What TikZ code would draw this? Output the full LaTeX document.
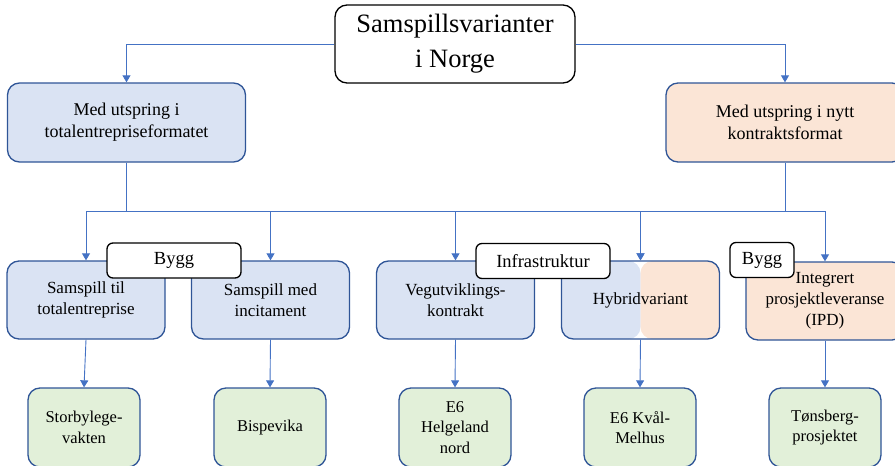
\documentclass[tikz,border=0pt]{standalone}
\usepackage{fontspec}
\setmainfont{Liberation Serif}
\usetikzlibrary{arrows.meta}
\definecolor{boxblue}{HTML}{DAE3F3}
\definecolor{boxpeach}{HTML}{FBE5D6}
\definecolor{boxgreen}{HTML}{E2F0D9}
\definecolor{edgeblue}{HTML}{2F5597}
\definecolor{linkblue}{HTML}{4472C4}
\tikzset{
  base/.style={rectangle, rounded corners=12pt, line width=1.3pt, align=center, inner sep=2pt},
  topbox/.style={base, draw=black, fill=white, minimum width=240pt, minimum height=78pt,
    font=\fontsize{26.5}{35}\selectfont},
  midbox/.style={base, draw=edgeblue, minimum width=238pt, minimum height=79pt,
    font=\fontsize{18}{22}\selectfont},
  rowbox/.style={base, draw=edgeblue, fill=boxblue, minimum width=158pt, minimum height=78pt,
    font=\fontsize{17}{21}\selectfont},
  leafbox/.style={base, draw=edgeblue, fill=boxgreen, minimum width=112pt, minimum height=79pt,
    font=\fontsize{16.5}{20.5}\selectfont},
  tagbox/.style={rectangle, rounded corners=6pt, draw=black, fill=white, line width=1.3pt,
    minimum height=35pt, inner sep=2pt, font=\fontsize{18.5}{22}\selectfont},
  conn/.style={draw=linkblue, line width=0.9pt, -{Triangle[width=8pt,length=7pt]}},
  bus/.style={draw=linkblue, line width=0.9pt}
}
\begin{document}
\begin{tikzpicture}[x=1pt,y=-1pt]
\useasboundingbox (0,0) rectangle (895,466);
\clip (0,0) rectangle (895,466);

% root and the two origins
\node[topbox] (root) at (455,44) {Samspillsvarianter\\i Norge};
\node[midbox, fill=boxblue] (te) at (126.5,122.5) {Med utspring i\\totalentrepriseformatet};
\node[midbox, fill=boxpeach] (nk) at (785,122.5) {Med utspring i nytt\\kontraktsformat};

% variants
\node[rowbox] (stt) at (86,300) {Samspill til\\totalentreprise};
\node[rowbox] (smi) at (270.5,300) {Samspill med\\incitament};
\node[rowbox] (vuk) at (455.5,300) {Vegutviklings-\\kontrakt};
\node[rowbox, fill=none,
  path picture={
    \fill[boxblue] (path picture bounding box.south west) rectangle (path picture bounding box.north);
    \fill[boxpeach] (path picture bounding box.south) rectangle (path picture bounding box.north east);
  }] (hyb) at (640.5,300) {Hybridvariant};
\node[rowbox, fill=boxpeach] (ipd) at (825,301) {Integrert\\prosjektleveranse\\(IPD)};

% projects
\node[leafbox] (sbv) at (84,427.5) {Storbylege-\\vakten};
\node[leafbox] (bsp) at (270,427.5) {Bispevika};
\node[leafbox] (ehn) at (455,427.5) {E6\\Helgeland\\nord};
\node[leafbox] (ekm) at (640,427.5) {E6 Kvål-\\Melhus};
\node[leafbox] (tbp) at (825,427.5) {Tønsberg-\\prosjektet};

% connectors from the root
\draw[conn] (root.west) -| (te.north);
\draw[conn] (root.east) -| (nk.north);

% bus lines to the variants
\coordinate (busL) at (126.5,211);
\coordinate (busR) at (785,211);
\draw[bus] (te.south) -- (busL);
\draw[bus] (nk.south) -- (busR);
\draw[conn] (busL) -| (stt.north);
\draw[conn] (busL) -| (smi.north);
\draw[conn] (busL) -| (vuk.north);
\draw[conn] (busL) -| (hyb.north);
\draw[conn] (busR) -| (hyb.north);
\draw[conn] (busR) -| (ipd.north);

% variants to projects
\draw[conn] (stt.south) -- (sbv.north);
\draw[conn] (smi.south) -- (bsp.north);
\draw[conn] (vuk.south) -- (ehn.north);
\draw[conn] (hyb.south) -- (ekm.north);
\draw[conn] (ipd.south) -- (tbp.north);

% sector tags
\node[tagbox, minimum width=134pt] (tag1) at (174,260.5) {Bygg};
\node[tagbox, minimum width=134pt] (tag2) at (543,261) {Infrastruktur};
\node[tagbox, minimum width=64pt] (tag3) at (762,260) {Bygg};
\end{tikzpicture}
\end{document}
